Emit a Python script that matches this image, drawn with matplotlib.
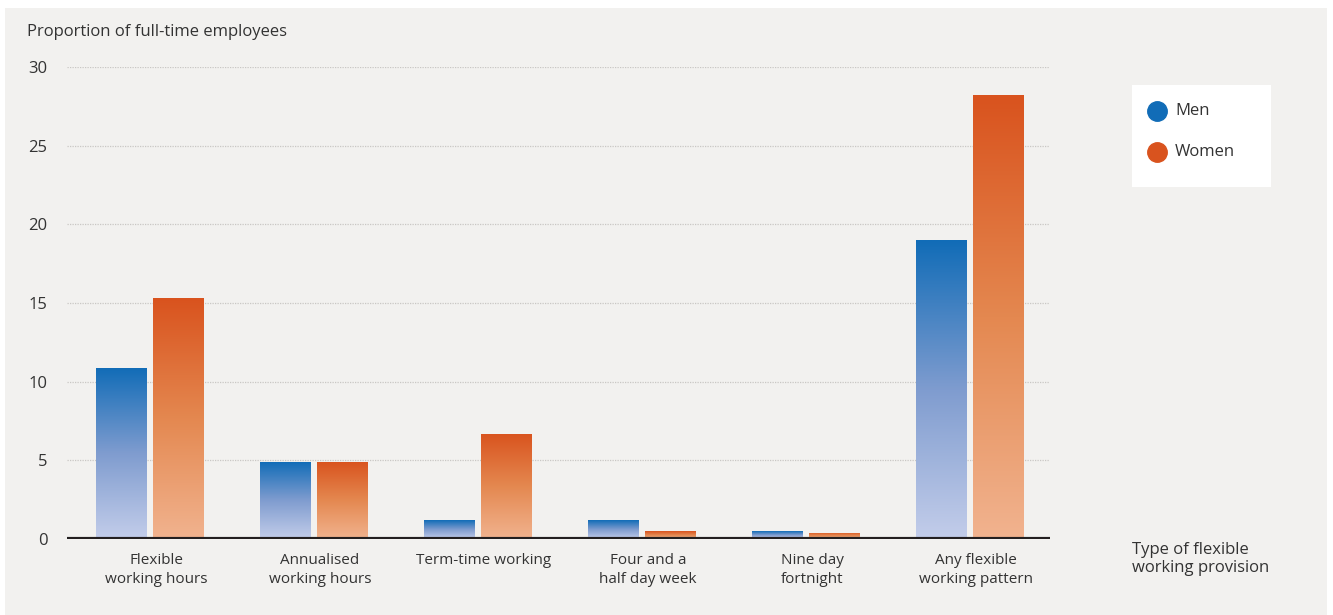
import numpy as np
import matplotlib
matplotlib.use("Agg")
import matplotlib.pyplot as plt
from matplotlib.colors import LinearSegmentedColormap
from matplotlib.patches import Rectangle
from matplotlib.lines import Line2D

categories = ["Flexible\nworking hours", "Annualised\nworking hours", "Term-time working",
              "Four and a\nhalf day week", "Nine day\nfortnight", "Any flexible\nworking pattern"]
men = [10.9, 4.9, 1.2, 1.2, 0.5, 19.0]
women = [15.3, 4.9, 6.7, 0.5, 0.4, 28.2]
yticks = [0, 5, 10, 15, 20, 25, 30]

plt.rcParams['font.family'] = ['Open Sans', 'DejaVu Sans']
txt = "#333333"
W, H = 1333, 615
fig = plt.figure(figsize=(W / 100, H / 100), dpi=100)
fig.patch.set_facecolor("white")
# grey panel
fig.patches.append(Rectangle((5 / W, 0), (1327 - 5) / W, (615 - 8) / H, transform=fig.transFigure,
                             facecolor="#f2f1ef", edgecolor="none", zorder=-10))

ax = fig.add_axes([67 / W, 1 - 539 / H, (1050 - 67) / W, (539 - 67) / H])
ax.set_facecolor("none")

cm_men = LinearSegmentedColormap.from_list("m", ["#c3cdea", "#7f9ccf", "#116cb7"])
cm_women = LinearSegmentedColormap.from_list("w", ["#f1b38f", "#e48850", "#d9531e"])
grad = np.linspace(0, 1, 256).reshape(-1, 1)

bw = 0.305
off = 0.1755
shift = -0.04
x = np.arange(len(categories))
for series, sign, cmap in [(men, -1, cm_men), (women, 1, cm_women)]:
    bars = ax.bar(x + shift + sign * off, series, width=bw, color="none", edgecolor="none", zorder=3)
    for b in bars:
        x0, y0 = b.get_x(), b.get_y()
        w, h = b.get_width(), b.get_height()
        im = ax.imshow(grad, cmap=cmap, origin="lower", aspect="auto",
                       extent=[x0, x0 + w, y0, y0 + h], zorder=3)
        im.set_clip_path(b)
ax.set_xlim(-0.543, 5.451)
ax.set_ylim(0, 30)

for yv in yticks[1:]:
    ax.axhline(yv, color="#c9c7c4", lw=0.9, ls=(0, (1, 1)), zorder=1)
ax.axhline(0, color="#231f20", lw=3, zorder=4, solid_capstyle="butt")

for s in ax.spines.values():
    s.set_visible(False)
ax.set_yticks(yticks)
ax.set_yticklabels([str(v) for v in yticks])
ax.tick_params(axis="y", length=0, pad=14, labelsize=12, labelcolor=txt)
ax.set_xticks(x)
ax.set_xticklabels(categories, fontsize=11, color=txt, linespacing=1.4)
ax.tick_params(axis="x", length=0, pad=10)

fig.text(27 / W, 1 - 32 / H, "Proportion of full-time employees", fontsize=12, color=txt,
         ha="left", va="center")
fig.text(1132 / W, 1 - 559 / H, "Type of flexible\nworking provision", fontsize=12, color=txt,
         ha="left", va="center", linespacing=1.2)

# legend box
fig.patches.append(Rectangle((1132 / W, 1 - 187 / H), (1271 - 1132) / W, (187 - 85) / H,
                             transform=fig.transFigure, facecolor="white", edgecolor="none", zorder=5))
for label, color, yy in [("Men", "#116cb7", 111), ("Women", "#d9531e", 152)]:
    fig.add_artist(Line2D([1157 / W], [1 - yy / H], marker="o", markersize=14, color=color,
                          transform=fig.transFigure, zorder=6))
    fig.text(1175 / W, 1 - yy / H, label, fontsize=12, color=txt, ha="left", va="center", zorder=6)

fig.savefig("out.png", dpi=100)
